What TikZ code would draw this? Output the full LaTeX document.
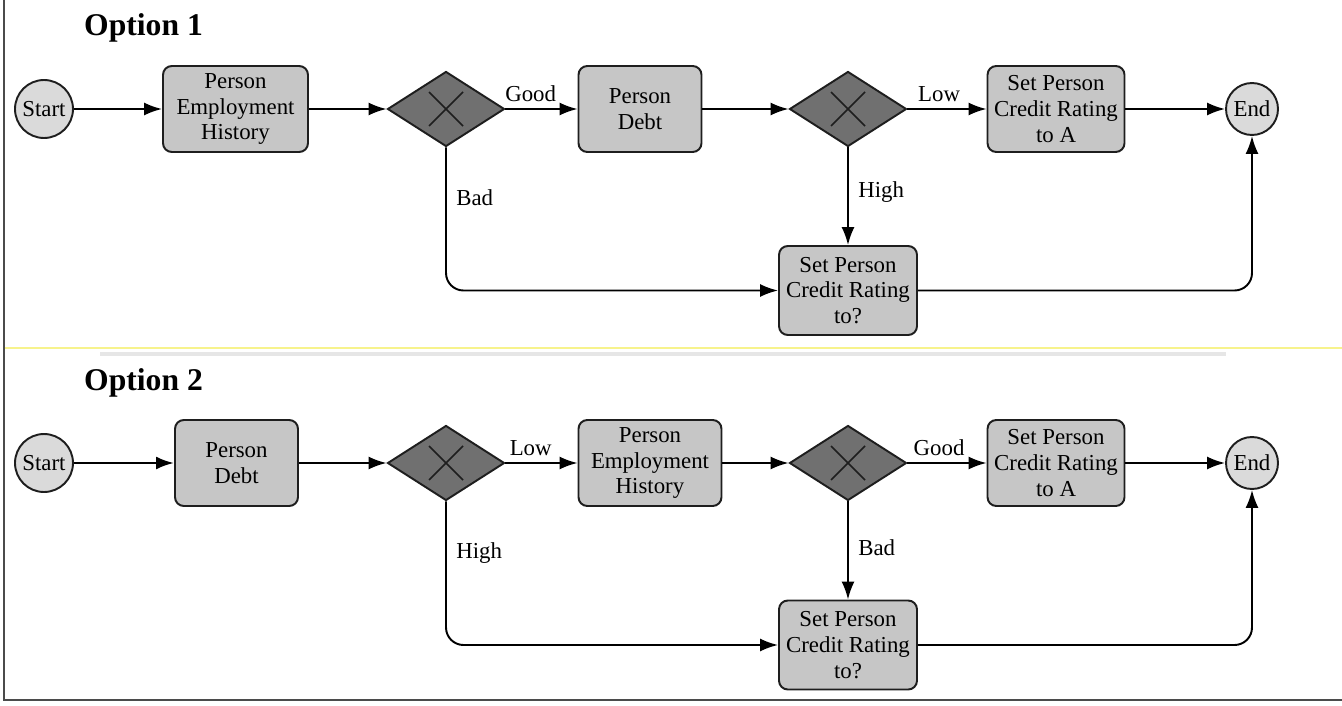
\documentclass[tikz,border=0pt]{standalone}
\usepackage{fontspec}
\setmainfont{Liberation Serif}
\usetikzlibrary{shapes.geometric, arrows.meta, calc}

\definecolor{taskgray}{HTML}{C6C6C6}
\definecolor{eventgray}{HTML}{DADADA}
\definecolor{gategray}{HTML}{707070}
\definecolor{edgeblack}{HTML}{1E1E1E}
\definecolor{rulegold}{HTML}{F7F38C}
\definecolor{rulegray}{HTML}{E6E6E6}

\begin{document}
\begin{tikzpicture}[
    x=0.02cm, y=-0.02cm,
    event/.style={circle, draw=edgeblack, fill=eventgray, line width=1.1pt, inner sep=0pt, font=\fontsize{13}{15}\selectfont},
    task/.style={rectangle, rounded corners=5pt, draw=edgeblack, fill=taskgray, line width=1.1pt, minimum height=1.72cm, align=center, inner sep=1pt, font=\fontsize{13}{14.7}\selectfont},
    gate/.style={diamond, aspect=1.56, draw=edgeblack, fill=gategray, line width=1.1pt, minimum width=2.34cm, minimum height=1.5cm, inner sep=0pt},
    arrow/.style={-{Latex[length=3.6mm, width=2.6mm]}, line width=1.1pt},
    flow/.style={line width=1.1pt, rounded corners=0.35cm},
    lbl/.style={font=\fontsize{13}{15}\selectfont},
    title/.style={font=\fontsize{18}{21}\selectfont\bfseries, anchor=west}
]
\useasboundingbox (0,0) rectangle (1342,706);

% Frame and separator
\draw[line width=1pt, edgeblack!80] (4,0) -- (4,700) -- (1342,700);
\draw[line width=1.2pt, rulegold] (5,348) -- (1342,348);
\draw[line width=1.8pt, rulegray] (100,354) -- (1226,354);

% Option 1
\node[title] (title1) at (78,28) {Option 1};
\node[event, minimum size=1.16cm] (start1) at (44,109) {Start};
\node[task, minimum width=2.9cm] (emp1) at (235.5,109) {Person\\Employment\\History};
\node[gate] (gatea1) at (446,109) {};
\node[task, minimum width=2.46cm] (debt1) at (640,109) {Person\\Debt};
\node[gate] (gateb1) at (848,109) {};
\node[task, minimum width=2.74cm] (ratea1) at (1056,109) {Set Person\\Credit Rating\\to A};
\node[event, minimum size=1.04cm] (end1) at (1252,109) {End};
\node[task, minimum width=2.76cm, minimum height=1.78cm] (rateq1) at (848,290.5) {Set Person\\Credit Rating\\to?};

\draw[arrow] (start1) -- (emp1);
\draw[arrow] (emp1) -- (gatea1);
\draw[arrow] (gatea1) -- node[lbl, above, pos=0.35] (good1) {Good} (debt1);
\draw[arrow] (debt1) -- (gateb1);
\draw[arrow] (gateb1) -- node[lbl, above, pos=0.4] (low1) {Low} (ratea1);
\draw[arrow] (ratea1) -- (end1);
\draw[arrow] (gateb1) -- node[lbl, right, pos=0.46, xshift=2pt] (high1) {High} (rateq1);
\draw[arrow, flow] (gatea1.south) |- node[lbl, right, pos=0.175, xshift=2pt] (bad1) {Bad} (rateq1.west);
\draw[arrow, flow] (rateq1.east) -| (end1.south);

% Option 2
\node[title] (title2) at (78,383) {Option 2};
\node[event, minimum size=1.16cm] (start2) at (44,463) {Start};
\node[task, minimum width=2.46cm] (debt2) at (236.5,463) {Person\\Debt};
\node[gate] (gatea2) at (446,463) {};
\node[task, minimum width=2.86cm] (emp2) at (650,463) {Person\\Employment\\History};
\node[gate] (gateb2) at (848,463) {};
\node[task, minimum width=2.74cm] (ratea2) at (1056,463) {Set Person\\Credit Rating\\to A};
\node[event, minimum size=1.04cm] (end2) at (1252,463) {End};
\node[task, minimum width=2.76cm, minimum height=1.78cm] (rateq2) at (848,645) {Set Person\\Credit Rating\\to?};

\draw[arrow, line width=1.5pt] (start2) -- (debt2);
\draw[arrow] (debt2) -- (gatea2);
\draw[arrow] (gatea2) -- node[lbl, above, pos=0.35] (low2) {Low} (emp2);
\draw[arrow] (emp2) -- (gateb2);
\draw[arrow] (gateb2) -- node[lbl, above, pos=0.4] (good2) {Good} (ratea2);
\draw[arrow] (ratea2) -- (end2);
\draw[arrow] (gateb2) -- node[lbl, right, pos=0.47, xshift=2pt] (bad2) {Bad} (rateq2);
\draw[arrow, flow] (gatea2.south) |- node[lbl, right, pos=0.18, xshift=2pt] (high2) {High} (rateq2.west);
\draw[arrow, flow] (rateq2.east) -| (end2.south);

% Exclusive gateway marks
\foreach \g in {gatea1, gateb1, gatea2, gateb2} {
    \draw[line width=0.9pt, edgeblack] ([shift={(-17,-17)}]\g.center) -- ([shift={(17,17)}]\g.center);
    \draw[line width=0.9pt, edgeblack] ([shift={(-17,17)}]\g.center) -- ([shift={(17,-17)}]\g.center);
}

\end{tikzpicture}
\end{document}
